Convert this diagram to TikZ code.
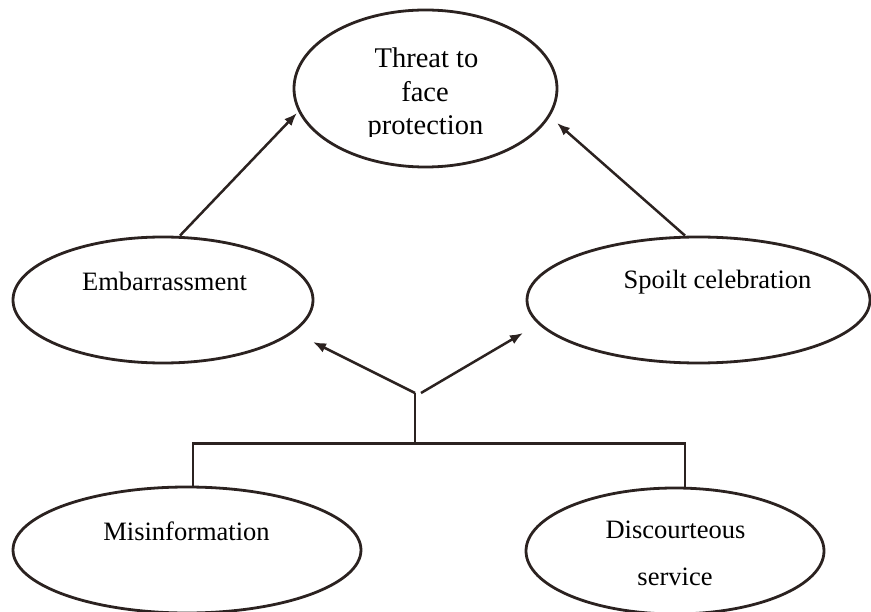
\documentclass[tikz,border=0pt]{standalone}
\usepackage{fontspec}
\setmainfont{Liberation Serif}
\usetikzlibrary{shapes.geometric,arrows.meta}
\definecolor{ink}{HTML}{2B2220}
\begin{document}
\begin{tikzpicture}[x=1pt,y=-1pt,
  bubble/.style={ellipse,draw=ink,line width=2.8pt,inner sep=0pt},
  lbl/.style={anchor=base,inner sep=0pt,text=black,font=\fontsize{26.5}{30}\selectfont},
  toplbl/.style={lbl,font=\fontsize{28.5}{32}\selectfont},
  link/.style={draw=ink,line width=2.5pt},
  arr/.style={link,-{Latex[length=13pt,width=10pt]}}]
\useasboundingbox (0,0) rectangle (871,612);

% ellipses
\node[bubble,minimum width=263pt,minimum height=157pt] (threat) at (425.5,88.5) {};
\node[bubble,minimum width=300pt,minimum height=126pt] (emb) at (163,300) {};
\node[bubble,minimum width=343pt,minimum height=126pt] (spoilt) at (698.5,300) {};
\node[bubble,minimum width=348pt,minimum height=126pt] (mis) at (187,550) {};
\node[bubble,minimum width=298pt,minimum height=126pt] (dis) at (675,551) {};

% labels
\node[toplbl] (t1) at (426.5,68) {Threat to};
\node[toplbl] (t2) at (425,102) {face};
\begin{scope}
  \clip (0,0) rectangle (871,137);
  \node[toplbl] (t3) at (425.5,135) {protection};
\end{scope}
\node[lbl] (embtxt) at (164.5,290.5) {Embarrassment};
\node[lbl] (spotxt) at (717.5,289) {Spoilt celebration};
\node[lbl] (mistxt) at (186.5,540) {Misinformation};
\node[lbl] (dis1) at (675.5,538) {Discourteous};
\node[lbl] (dis2) at (675,585) {service};

% free ends of the connectors
\coordinate (forkL) at (415,393);
\coordinate (forkR) at (421,393);
\coordinate (join) at (415,445);
\coordinate (tipL) at (313,342);
\coordinate (tipR) at (523,333);
\coordinate (tipTL) at (297,113);
\coordinate (tipTR) at (557,123);

% causes joined by a bracket
\draw[link] ([xshift=6pt]mis.north) -- ++(0,-42) -| ([xshift=10pt]dis.north);
\draw[link] (join) -- (forkL);

% arrows
\draw[arr] (forkL) -- (tipL);
\draw[arr] (forkR) -- (tipR);
\draw[arr] ([xshift=17pt]emb.north) -- (tipTL);
\draw[arr] ([xshift=-13.5pt]spoilt.north) -- (tipTR);
\end{tikzpicture}
\end{document}
